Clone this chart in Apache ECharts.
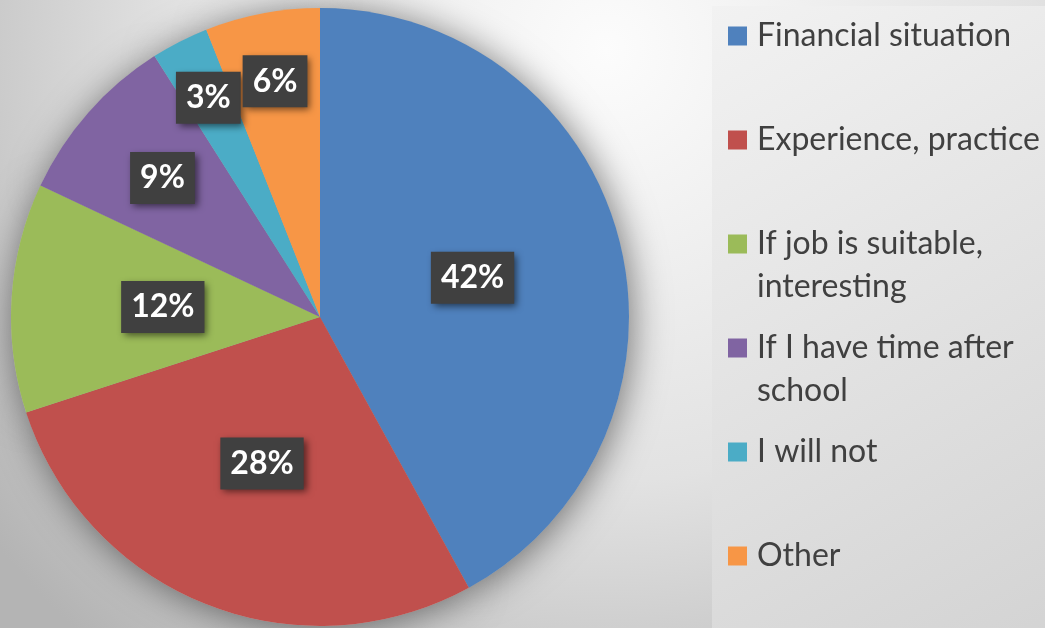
<!DOCTYPE html>
<html>
<head>
<meta charset="utf-8">
<script src="https://cdn.jsdelivr.net/npm/echarts@6/dist/echarts.min.js"></script>
<style>
  html, body { margin: 0; padding: 0; }
  #mainChart { width: 1045px; height: 628px; }
</style>
</head>
<body>
<div id="mainChart"></div>
<script>
// chart data
var categories = ['Financial situation', 'Experience, practice', 'If job is suitable, interesting',
    'If I have time after school', 'I will not', 'Other'];
var legendLabels = ['Financial situation', 'Experience, practice', 'If job is suitable,\ninteresting',
    'If I have time after\nschool', 'I will not', 'Other'];
var shares = [42, 28, 12, 9, 3, 6];
var sliceColors = ['#4F81BD', '#C0504D', '#9BBB59', '#8064A2', '#4BACC6', '#F79646'];

// which ring each data label sits in (Excel "best fit" pushes the small ones outward)
var labelRing = ['inner', 'inner', 'inner', 'middle', 'outer', 'outer2'];

var pieCenter = [320, 317];
var pieRadius = 309;

var labelStyle = {
    position: 'inside',
    formatter: '{d}%',
    color: '#fff',
    fontFamily: 'Lato',
    fontWeight: 'bold',
    fontSize: 32,
    lineHeight: 35,
    backgroundColor: '#404040',
    padding: [9, 10, 8, 10],
    shadowColor: 'rgba(0,0,0,0.55)',
    shadowBlur: 7,
    shadowOffsetX: 3,
    shadowOffsetY: 3
};

function buildData(ring, transparent) {
    var out = [];
    for (var i = 0; i < categories.length; i++) {
        out.push({
            name: categories[i],
            value: shares[i],
            itemStyle: { color: transparent ? 'rgba(0,0,0,0)' : sliceColors[i] },
            label: { show: labelRing[i] == ring }
        });
    }
    return out;
}

function pieSeries(name, radius, ring, transparent, z) {
    return {
        name: name,
        type: 'pie',
        center: pieCenter,
        radius: radius,
        startAngle: 90,
        clockwise: true,
        avoidLabelOverlap: false,
        silent: true,
        z: z,
        percentPrecision: 0,
        label: labelStyle,
        labelLine: { show: false },
        emphasis: { disabled: true },
        data: buildData(ring, transparent)
    };
}

var myChart = echarts.init(document.getElementById('mainChart'));

var series = [];
series.push(pieSeries('shares', [0, pieRadius], 'inner', false, 3));
// soft drop shadow under the whole pie
var shadowPie = pieSeries('shadow', [0, pieRadius], 'none', false, 1);
shadowPie.data.forEach(function (d) {
    d.itemStyle = { color: '#bbb', shadowBlur: 36, shadowColor: 'rgba(0,0,0,0.5)', shadowOffsetX: 3, shadowOffsetY: 3 };
});
series.push(shadowPie);
series.push(pieSeries('labels-middle', [0, 414], 'middle', true, 4));
series.push(pieSeries('labels-outer', [0, 486], 'outer', true, 4));
series.push(pieSeries('labels-outer2', [0, 474], 'outer2', true, 4));

// one legend per entry so the marker lines up with the first text line
var lineH = 43;
var legends = [];
for (var i = 0; i < categories.length; i++) {
    var twoLines = legendLabels[i].indexOf('\n') > -1;
    var iconY = 36 + 104 * i;
    var itemH = twoLines ? lineH * 3 : lineH;
    var lg = {
        orient: 'vertical',
        left: 712,
        top: iconY - itemH / 2,
        padding: [0, 0, 0, 16],
        itemWidth: 19,
        itemHeight: 19,
        icon: 'rect',
        selectedMode: false,
        textStyle: {
            fontFamily: 'Lato',
            fontSize: 32,
            color: '#404040',
            lineHeight: lineH,
            padding: [0, 0, 0, 5]
        },
        formatter: function (name) {
            var label = legendLabels[categories.indexOf(name)];
            // empty first line keeps the marker level with the first real line
            return label.indexOf('\n') > -1 ? '\n' + label : label;
        },
        data: [categories[i]]
    };
    if (i == 0) {
        // first legend also paints the light panel behind all entries
        lg.top = 6;
        lg.padding = [iconY - lineH / 2 - 6, 60, 600, 16];
        lg.backgroundColor = {
            type: 'linear', x: 0, y: 0, x2: 1, y2: 1,
            colorStops: [
                { offset: 0, color: '#f2f2f2' },
                { offset: 1, color: '#d2d2d2' }
            ]
        };
    }
    legends.push(lg);
}

var option = {
    animation: false,
    backgroundColor: {
        type: 'radial', x: 0.58, y: 0.08, r: 1.25,
        colorStops: [
            { offset: 0, color: '#fcfcfc' },
            { offset: 0.55, color: '#e2e2e2' },
            { offset: 1, color: '#b4b4b4' }
        ]
    },
    legend: legends,
    series: series
};

myChart.setOption(option);
</script>
</body>
</html>
